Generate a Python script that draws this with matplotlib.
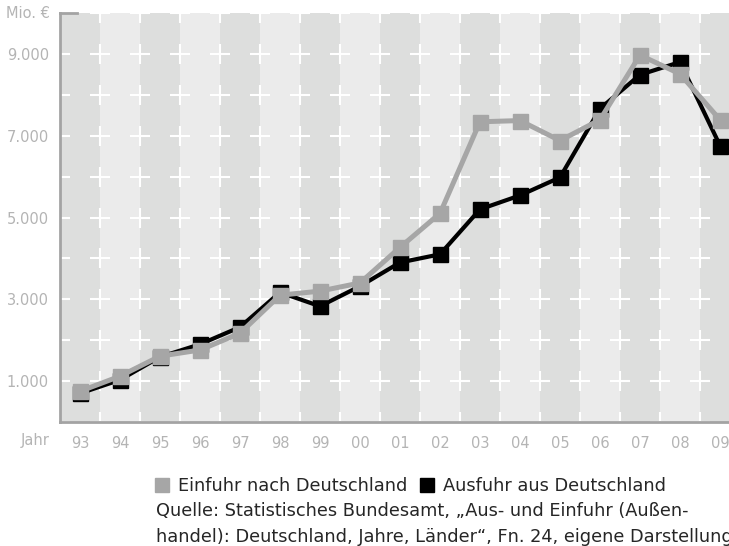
import matplotlib
matplotlib.use('Agg')
import matplotlib.pyplot as plt
from matplotlib.lines import Line2D

# Daten (Mio. €)
years = ['93', '94', '95', '96', '97', '98', '99', '00', '01',
         '02', '03', '04', '05', '06', '07', '08', '09']
einfuhr = [750, 1120, 1610, 1760, 2170, 3100, 3200, 3400, 4270,
           5100, 7340, 7370, 6880, 7390, 8970, 8510, 7390]
ausfuhr = [700, 1030, 1590, 1900, 2320, 3170, 2830, 3320, 3900,
           4100, 5200, 5540, 5980, 7660, 8490, 8800, 6760]
y_ticks = [1000, 3000, 5000, 7000, 9000]
y_labels = ['1.000', '3.000', '5.000', '7.000', '9.000']

GRAY = '#a6a6a6'
LABEL = '#b4b4b4'
SPINE = '#a3a3a3'
DARK_STRIPE = '#dddedd'
LIGHT_STRIPE = '#ebebeb'
TEXT = '#262626'

plt.rcParams['font.family'] = ['DejaVu Sans']

W, H = 729, 546
fig = plt.figure(figsize=(W / 100, H / 100), dpi=100)
ax = fig.add_axes([60 / W, 1 - 422 / H, 680 / W, (422 - 13) / H])

n = len(years)
x = list(range(n))
ax.set_xlim(-0.5, n - 0.5)
ax.set_ylim(0, 10000)

# Streifen
for i in x:
    ax.axvspan(i - 0.5, i + 0.5, color=DARK_STRIPE if i % 2 == 0 else LIGHT_STRIPE,
               lw=0, zorder=0)

# weiße Kreuze an den Gitterpunkten
cx = [i - 0.5 for i in range(n + 1)]
cy = list(range(0, 10001, 1000))
gx = [a for a in cx for b in cy]
gy = [b for a in cx for b in cy]
ax.plot(gx, gy, ls='none', marker='+', ms=14.4, mew=1.5, color='white', zorder=1)

ax.plot(x, ausfuhr, color='black', lw=3, marker='s', ms=10.8, mec='black', zorder=3)
ax.plot(x, einfuhr, color=GRAY, lw=3.6, marker='s', ms=10.8, mec=GRAY, zorder=4)

for s in ['top', 'right']:
    ax.spines[s].set_visible(False)
for s in ['left', 'bottom']:
    ax.spines[s].set_color(SPINE)
    ax.spines[s].set_linewidth(2)
    ax.spines[s].set_zorder(5)
ax.axhline(10000, xmin=0, xmax=17 / 680, color=SPINE, lw=2, clip_on=False, zorder=5)

ax.set_xticks(x)
ax.set_xticklabels(years)
ax.set_yticks(y_ticks)
ax.set_yticklabels(y_labels)
ax.tick_params(length=0, labelsize=10.5, colors=LABEL)
ax.tick_params(axis='x', pad=10)
ax.tick_params(axis='y', pad=8)

fig.text(50 / W, 1 - 13 / H, 'Mio. €', ha='right', va='center', fontsize=10.5, color=LABEL)
fig.text(35 / W, 1 - 440 / H, 'Jahr', ha='center', va='center', fontsize=10.5, color=LABEL)

handles = [Line2D([], [], ls='none', marker='s', ms=10, color=GRAY),
           Line2D([], [], ls='none', marker='s', ms=10, color='black')]
fig.legend(handles, ['Einfuhr nach Deutschland', 'Ausfuhr aus Deutschland'],
           loc='upper left', bbox_to_anchor=(155 / W, 1 - 477 / H), ncol=2,
           frameon=False, fontsize=12.8, borderpad=0, borderaxespad=0,
           handlelength=0.8, handletextpad=0.5, columnspacing=0.7,
           labelcolor=TEXT)

fig.text(156 / W, 1 - 511 / H,
         'Quelle: Statistisches Bundesamt, „Aus- und Einfuhr (Außen-',
         ha='left', va='center', fontsize=12.8, color=TEXT)
fig.text(156 / W, 1 - 537 / H,
         'handel): Deutschland, Jahre, Länder“, Fn. 24, eigene Darstellung',
         ha='left', va='center', fontsize=12.8, color=TEXT)

fig.savefig('out.png', dpi=100)
